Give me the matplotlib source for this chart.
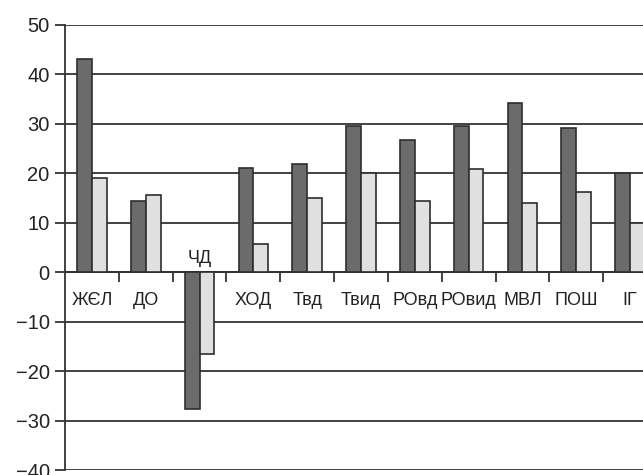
import matplotlib
matplotlib.use("Agg")
import matplotlib.pyplot as plt
import numpy as np

categories = ["ЖЄЛ", "ДО", "ЧД", "ХОД", "Твд", "Твид", "РОвд", "РОвид", "МВЛ", "ПОШ", "ІГ"]
dark_vals = [43.1, 14.5, -27.7, 21.1, 21.9, 29.6, 26.8, 29.6, 34.3, 29.1, 20.1]
light_vals = [19.1, 15.7, -16.5, 5.8, 15.1, 20.1, 14.4, 20.9, 14.0, 16.2, 10.0]
y_ticks = [-40, -30, -20, -10, 0, 10, 20, 30, 40, 50]

DARK = "#6b6b6b"
LIGHT = "#e0e0e0"
EDGE = "#2e2e2e"
LINE = "#333333"

plt.rcParams["font.family"] = ["Liberation Sans", "DejaVu Sans"]

fig = plt.figure(figsize=(6.43, 4.75), dpi=100)
ax = fig.add_axes([65 / 643, 5 / 475, 592 / 643, 445 / 475])

x = np.arange(len(categories))
w = 0.275
ax.bar(x - w / 2, dark_vals, w, color=DARK, edgecolor=EDGE, linewidth=1.2, zorder=3)
ax.bar(x + w / 2, light_vals, w, color=LIGHT, edgecolor=EDGE, linewidth=1.2, zorder=3)

ax.set_xlim(-0.5, len(categories) - 0.5)
ax.set_ylim(-40, 50)
ax.set_yticks(y_ticks)
ax.set_yticklabels([f"{v}".replace("-", "\u2212") for v in y_ticks], fontsize=14.5, color="#222222")
for v in y_ticks:
    ax.axhline(v, color=LINE, linewidth=1.3, zorder=1)

# category boundary ticks on the zero line
ax.spines["bottom"].set_position(("data", 0))
ax.spines["bottom"].set_color(LINE)
ax.spines["bottom"].set_linewidth(1.3)
ax.set_xticks(np.arange(len(categories)) + 0.5)
ax.set_xticklabels([])
ax.tick_params(axis="x", direction="out", length=7, width=1.3, color=LINE)
ax.tick_params(axis="y", direction="out", length=7, width=1.3, color=LINE, pad=4)
ax.spines["left"].set_color(LINE)
ax.spines["left"].set_linewidth(1.3)
for s in ("top", "right"):
    ax.spines[s].set_visible(False)

for i, name in enumerate(categories):
    neg = min(dark_vals[i], light_vals[i]) < 0
    off = 14 if neg else -28
    ax.annotate(name, xy=(i, 0), xytext=(0, off), textcoords="offset pixels",
                ha="center", va="center", fontsize=13, color="#222222")

fig.savefig("out.png", dpi=100)
